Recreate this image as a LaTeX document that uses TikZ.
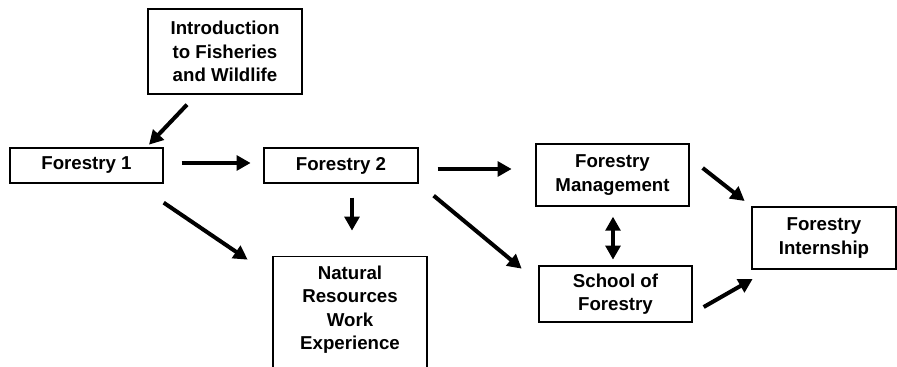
\documentclass[tikz,border=0pt]{standalone}
\usepackage{fontspec}
\setmainfont{Liberation Sans}
\usetikzlibrary{arrows.meta}

\begin{document}
\begin{tikzpicture}[x=0.75pt, y=-0.75pt,
    every node/.style={font=\fontsize{14}{17.6}\selectfont\bfseries, align=center},
    box/.style={draw, line width=1pt, inner sep=0pt},
    arr/.style={line width=3pt, -{Triangle[length=10.5pt,width=11pt]}},
    darr/.style={line width=3pt, {Triangle[length=10.5pt,width=11pt]}-{Triangle[length=10.5pt,width=11pt]}}]

  \clip (0,0) rectangle (897,367);

  % boxes
  \node[box, minimum width=115.5pt, minimum height=63.75pt] (intro) at (225,51.5)
    {Introduction\\to Fisheries\\and Wildlife};
  \node[box, minimum width=114.75pt, minimum height=26.25pt] (f1) at (86.5,165.5) {Forestry 1};
  \node[box, minimum width=115.5pt, minimum height=26.25pt] (f2) at (341,165.5) {Forestry 2};
  \node[box, minimum width=115.5pt, anchor=north, inner ysep=7pt] (nr) at (350,256)
    {Natural\\Resources\\Work\\Experience\\ \strut};
  \node[box, minimum width=114.75pt, minimum height=46.5pt] (fm) at (612.5,175)
    {Forestry\\Management};
  \node[box, minimum width=114.75pt, minimum height=42pt] (sof) at (615.5,294)
    {School of\\Forestry};
  \node[box, minimum width=108pt, minimum height=46.5pt] (fi) at (824,238)
    {Forestry\\Internship};

  % arrows
  \draw[arr] (intro.south) ++(-38,10) -- ++(-38,40);
  \draw[arr] (f1.east) ++(18,-2.5) -- ++(69,0);
  \draw[arr] (f1.south east) ++(0,19) -- ++(84,57);
  \draw[arr] (f2.south) ++(11,14) -- ++(0,33);
  \draw[arr] (f2.east) ++(19,3.5) -- ++(74,0);
  \draw[arr] (f2.south east) ++(15,12) -- ++(88,73);
  \draw[darr] (fm.south) ++(0.5,10) -- ++(0,43);
  \draw[arr] (fm.east) ++(13,-7) -- ++(42,33);
  \draw[arr] (sof.east) ++(11,13) -- ++(49,-28);

\end{tikzpicture}
\end{document}
